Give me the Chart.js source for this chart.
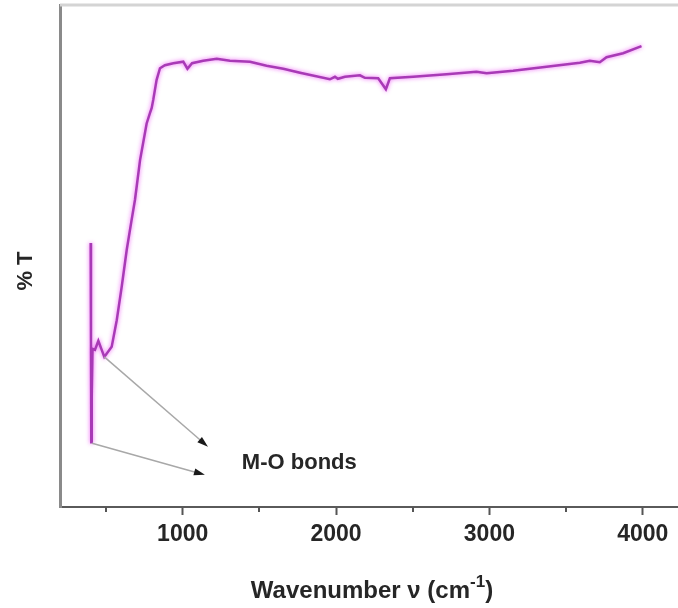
<!DOCTYPE html>
<html>
<head>
<meta charset="utf-8">
<script src="https://cdn.jsdelivr.net/npm/chart.js@4.4.1/dist/chart.umd.min.js"></script>
<style>
  html, body { margin: 0; padding: 0; background: #fff; }
  #wrap { width: 678px; height: 608px; }
</style>
</head>
<body>
<div id="wrap"><canvas id="ftirChart"></canvas></div>
<script>
// FTIR spectrum, values (y is %T on an arbitrary 0-100 scale)
const wavenumbers = [400, 402, 404, 407, 412, 428, 450, 489, 537, 570, 602, 635, 667,
    689, 722, 765, 787, 798, 808, 830, 852, 884, 939, 1004, 1031, 1061, 1134, 1222,
    1308, 1439, 1547, 1656, 1765, 1960, 1993, 2012, 2058, 2156, 2188, 2275, 2325,
    2351, 2503, 2721, 2916, 2982, 3155, 3373, 3590, 3655, 3720, 3764, 3872, 3992];
const transmittance = [52.6, 32.9, 12.9, 22.0, 31.5, 31.3, 33.1, 29.9, 31.9, 37.2, 43.8, 51.2, 57.2,
    61.2, 69.1, 76.4, 78.5, 79.5, 81.1, 85.1, 87.4, 88.0, 88.4, 88.7, 87.3, 88.4, 88.9, 89.3,
    88.9, 88.7, 87.9, 87.3, 86.5, 85.2, 85.7, 85.3, 85.7, 86.0, 85.5, 85.4, 83.2,
    85.4, 85.7, 86.2, 86.7, 86.4, 86.9, 87.7, 88.5, 88.9, 88.6, 89.6, 90.4, 91.8];

const xTicks = [1000, 2000, 3000, 4000];
const xMinorTicks = [500, 1500, 2500, 3500];

// annotation: arrows from the bands to the label
const arrowFrom = [[489, 29.9], [409, 12.7]];
const arrowTo = [[1165, 12.0], [1145, 6.4]];
const bandLabel = 'M-O bonds';
const bandLabelAt = [1386, 8.8];

const FONT = "'Liberation Sans', Arial, sans-serif";
const TEXT = '#262626';

const extrasPlugin = {
    id: 'extras',
    beforeDatasetsDraw(chart) {
        chart.ctx.save();
        chart.ctx.shadowColor = 'rgba(235, 70, 245, 0.85)';
        chart.ctx.shadowBlur = 4;
    },
    afterDatasetsDraw(chart) {
        chart.ctx.restore();
    },
    afterDraw(chart) {
        const ctx = chart.ctx;
        const x = chart.scales.x;
        const y = chart.scales.y;
        const area = chart.chartArea;
        ctx.save();

        // top frame line
        ctx.strokeStyle = '#d4d4d4';
        ctx.lineWidth = 3;
        ctx.beginPath();
        ctx.moveTo(area.left, area.top);
        ctx.lineTo(area.right, area.top);
        ctx.stroke();

        // minor ticks
        ctx.strokeStyle = '#555';
        ctx.lineWidth = 2;
        xMinorTicks.forEach(v => {
            const px = Math.round(x.getPixelForValue(v));
            ctx.beginPath();
            ctx.moveTo(px, area.bottom);
            ctx.lineTo(px, area.bottom + 5);
            ctx.stroke();
        });

        // arrows
        arrowFrom.forEach((from, i) => {
            const x0 = x.getPixelForValue(from[0]), y0 = y.getPixelForValue(from[1]);
            const x1 = x.getPixelForValue(arrowTo[i][0]), y1 = y.getPixelForValue(arrowTo[i][1]);
            const ang = Math.atan2(y1 - y0, x1 - x0);
            ctx.strokeStyle = '#a8a8a8';
            ctx.lineWidth = 1.5;
            ctx.beginPath();
            ctx.moveTo(x0, y0);
            ctx.lineTo(x1 - 8 * Math.cos(ang), y1 - 8 * Math.sin(ang));
            ctx.stroke();
            ctx.fillStyle = '#1a1a1a';
            ctx.beginPath();
            ctx.moveTo(x1, y1);
            ctx.lineTo(x1 - 11 * Math.cos(ang) + 3.5 * Math.sin(ang), y1 - 11 * Math.sin(ang) - 3.5 * Math.cos(ang));
            ctx.lineTo(x1 - 11 * Math.cos(ang) - 3.5 * Math.sin(ang), y1 - 11 * Math.sin(ang) + 3.5 * Math.cos(ang));
            ctx.closePath();
            ctx.fill();
        });

        // band label
        ctx.fillStyle = TEXT;
        ctx.font = 'bold 22px ' + FONT;
        ctx.textAlign = 'left';
        ctx.textBaseline = 'middle';
        ctx.fillText(bandLabel, x.getPixelForValue(bandLabelAt[0]), y.getPixelForValue(bandLabelAt[1]));

        // x axis title with superscript
        const main = 'Wavenumber \u03bd (cm';
        const sup = '-1';
        const close = ')';
        ctx.font = 'bold 24px ' + FONT;
        const wMain = ctx.measureText(main).width;
        const wClose = ctx.measureText(close).width;
        ctx.font = 'bold 17px ' + FONT;
        const wSup = ctx.measureText(sup).width;
        let tx = (area.left + area.right) / 2 + 3 - (wMain + wSup + wClose) / 2;
        const base = 598;
        ctx.textBaseline = 'alphabetic';
        ctx.font = 'bold 24px ' + FONT;
        ctx.fillText(main, tx, base);
        tx += wMain;
        ctx.font = 'bold 17px ' + FONT;
        ctx.fillText(sup, tx, base - 11);
        tx += wSup;
        ctx.font = 'bold 24px ' + FONT;
        ctx.fillText(close, tx, base);

        // y axis title
        ctx.translate(26, 271);
        ctx.rotate(-Math.PI / 2);
        ctx.font = 'bold 22px ' + FONT;
        ctx.textAlign = 'center';
        ctx.textBaseline = 'middle';
        ctx.fillText('% T', 0, 0);

        ctx.restore();
    }
};

new Chart(document.getElementById('ftirChart'), {
    type: 'line',
    data: {
        datasets: [{
            data: wavenumbers.map((w, i) => ({ x: w, y: transmittance[i] })),
            borderColor: '#a83ab6',
            borderWidth: 2.5,
            pointRadius: 0,
            tension: 0,
            fill: false
        }]
    },
    options: {
        responsive: true,
        maintainAspectRatio: false,
        animation: false,
        layout: { padding: { top: 5, left: 0, right: 0, bottom: 0 } },
        plugins: {
            legend: { display: false },
            tooltip: { enabled: false }
        },
        scales: {
            x: {
                type: 'linear',
                min: 200,
                max: 4230,
                afterBuildTicks: scale => {
                    scale.ticks = xTicks.map(v => ({ value: v }));
                },
                afterFit: scale => { scale.height = 101; },
                grid: {
                    drawOnChartArea: false,
                    drawTicks: true,
                    tickLength: 8,
                    tickWidth: 2,
                    tickColor: '#555'
                },
                border: { display: true, color: '#5a5a5a', width: 2 },
                ticks: {
                    padding: 6,
                    color: TEXT,
                    font: { family: FONT, size: 23, weight: 'bold' },
                    maxRotation: 0,
                    callback: value => String(value)
                }
            },
            y: {
                min: 0,
                max: 100,
                afterFit: scale => { scale.width = 60; },
                grid: { display: false },
                border: { display: true, color: '#8a8a8a', width: 3 },
                ticks: { display: false }
            }
        }
    },
    plugins: [extrasPlugin]
});
</script>
</body>
</html>
